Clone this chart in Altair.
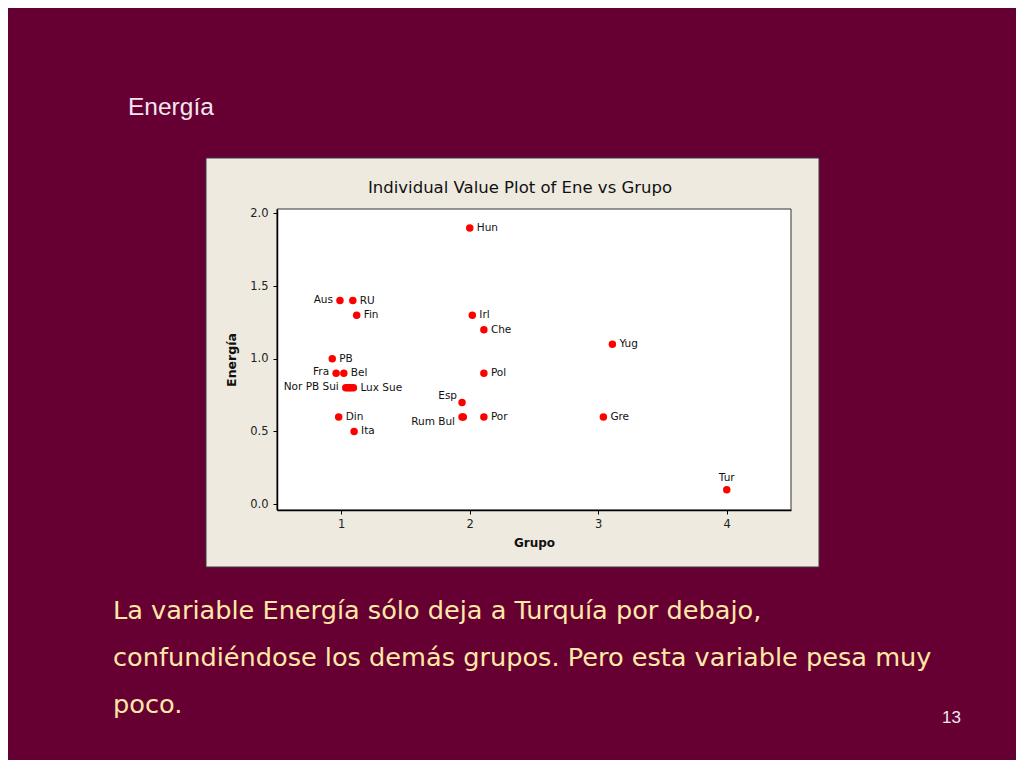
import altair as alt
import pandas as pd

# ---- data ----
paises = ["Hun", "Aus", "RU", "Fin", "Irl", "Che", "Yug", "PB", "Fra", "Bel", "Pol",
          "Nor", "PB", "Sui", "Lux", "Sue", "Esp", "Rum", "Bul", "Por", "Gre", "Din", "Ita", "Tur"]
grupo = [2.00, 0.99, 1.09, 1.12, 2.02, 2.11, 3.11, 0.93, 0.96, 1.02, 2.11,
         1.035, 1.05, 1.065, 1.08, 1.095, 1.94, 1.94, 1.95, 2.11, 3.04, 0.98, 1.10, 4.00]
energia = [1.9, 1.4, 1.4, 1.3, 1.3, 1.2, 1.1, 1.0, 0.9, 0.9, 0.9,
           0.8, 0.8, 0.8, 0.8, 0.8, 0.7, 0.6, 0.6, 0.6, 0.6, 0.6, 0.5, 0.1]
etiquetas = ["Hun", "Aus", "RU", "Fin", "Irl", "Che", "Yug", "PB", "Fra", "Bel", "Pol",
             "Nor PB Sui", "", "", "", "Lux Sue", "Esp", "Rum Bul", "", "Por", "Gre", "Din", "Ita", "Tur"]

# label placement groups
izquierda = ["Aus", "Fra", "Nor PB Sui"]
arriba_izq = ["Esp"]
abajo_izq = ["Rum Bul"]
arriba = ["Tur"]

x_ticks = [1, 2, 3, 4]
y_ticks = [0.0, 0.5, 1.0, 1.5, 2.0]

titulo_slide = "Energía"
titulo_grafico = "Individual Value Plot of  Ene vs Grupo"
texto = ["La variable Energía sólo deja a Turquía por debajo,",
         "confundiéndose los demás grupos. Pero esta variable pesa muy",
         "poco."]
pagina = "13"

df = pd.DataFrame({"pais": paises, "grupo": grupo, "energia": energia, "etiqueta": etiquetas})
one = pd.DataFrame({"k": [0]})

FONT = "DejaVu Sans"
W, H = 514, 301

x_enc = alt.X("grupo:Q",
              scale=alt.Scale(domain=[0.5, 4.5], nice=False, zero=False),
              axis=alt.Axis(values=x_ticks, format="d", title="Grupo", grid=False,
                            tickSize=4, labelPadding=4, labelFontSize=11.5, labelFont=FONT,
                            labelColor="#222", domainColor="#000", domainWidth=1.5,
                            tickColor="#000", titleFont=FONT, titleFontSize=12,
                            titleFontWeight="bold", titleColor="#111", titlePadding=8,
                            zindex=1))
y_enc = alt.Y("energia:Q",
              scale=alt.Scale(domain=[-0.04, 2.03], nice=False, zero=False),
              axis=alt.Axis(values=y_ticks, format=".1f", title="Energía", grid=False,
                            tickSize=4, labelPadding=5, labelFontSize=11.5, labelFont=FONT,
                            labelColor="#222", domainColor="#000", domainWidth=1.5,
                            tickColor="#000", titleFont=FONT, titleFontSize=12.5,
                            titleFontWeight="bold", titleColor="#111", titlePadding=11,
                            zindex=1))

panel = alt.Chart(one).mark_rect(fill="#EEEAE0", stroke="#3a3a3a", strokeWidth=1).encode(
    x=alt.value(-71), x2=alt.value(542), y=alt.value(-51), y2=alt.value(358))
plotbg = alt.Chart(one).mark_rect(fill="#FFFFFF", stroke="#333", strokeWidth=1).encode(
    x=alt.value(0), x2=alt.value(W), y=alt.value(0), y2=alt.value(H))

points = alt.Chart(df).mark_circle(size=56, color="#FF0000", opacity=1).encode(x=x_enc, y=y_enc)

def labels(sel, align, dx, dy, baseline="middle"):
    return alt.Chart(df).transform_filter(
        alt.FieldOneOfPredicate(field="etiqueta", oneOf=sel)
    ).mark_text(align=align, dx=dx, dy=dy, baseline=baseline, font=FONT, fontSize=10.5,
                color="#111").encode(x="grupo:Q", y="energia:Q", text="etiqueta:N")

especiales = izquierda + arriba_izq + abajo_izq + arriba
derecha = [e for e in etiquetas if e and e not in especiales]

lab_r = labels(derecha, "left", 7, 0)
lab_l = labels(izquierda, "right", -7, -1)
lab_al = labels(arriba_izq, "right", -5, -6)
lab_bl = labels(abajo_izq, "right", -7, 5)
lab_a = labels(arriba, "center", 0, -12)

def txt(s, x, y, size, color, font, align="left", weight="normal"):
    return alt.Chart(one).mark_text(text=s, align=align, baseline="alphabetic", font=font,
                                    fontSize=size, color=color, fontWeight=weight).encode(
        x=alt.value(x), y=alt.value(y))

t_slide = txt(titulo_slide, -149, -94, 24.5, "#F4E6EE", "Liberation Sans")
t_chart = txt(titulo_grafico, 243, -16, 16.5, "#111", FONT, align="center")
body = [txt(line, -164, 410 + 47 * i, 25.6, "#FFE9A6", FONT) for i, line in enumerate(texto)]
t_page = txt(pagina, 684, 514, 17, "#F4E6EE", "Liberation Sans", align="right")

chart = alt.layer(panel, plotbg, points, lab_r, lab_l, lab_al, lab_bl, lab_a,
                  t_slide, t_chart, *body, t_page).properties(
    width=W, height=H,
    autosize=alt.AutoSizeParams(type="none"),
    padding={"left": 269, "top": 201, "right": 225, "bottom": 250},
    background="#660033",
).configure_view(stroke=None)

chart.save("out.html", embed_options={"renderer": "svg", "actions": False})
